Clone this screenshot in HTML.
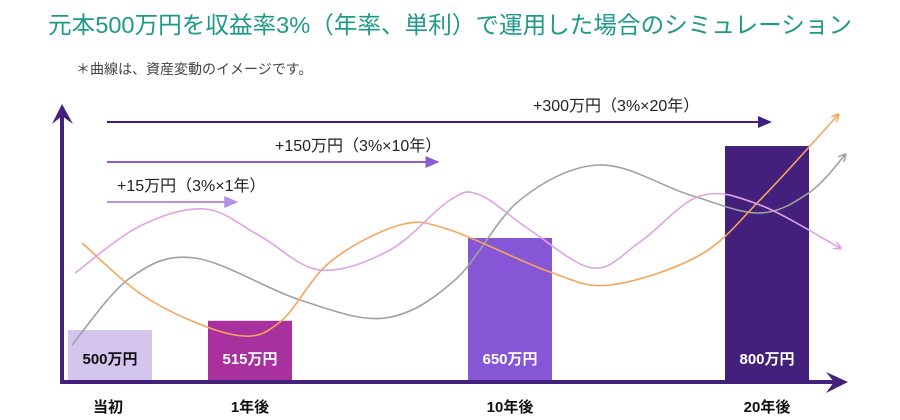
<!DOCTYPE html>
<html><head><meta charset="utf-8">
<style>
html,body{margin:0;padding:0;background:#fff;}
svg{display:block;font-family:"Liberation Sans","Noto Sans CJK JP",sans-serif;}
</style></head>
<body>
<svg id="chart" width="900" height="420" viewBox="0 0 900 420">
  <text x="48" y="33" font-size="23.5" fill="#1d9a88" textLength="804" lengthAdjust="spacingAndGlyphs">元本500万円を収益率3%（年率、単利）で運用した場合のシミュレーション</text>
  <text x="76" y="74" font-size="14" fill="#444">＊曲線は、資産変動のイメージです。</text>
  <g id="bars"></g>
  <g id="curves"></g>
  <g id="gains"></g>
  <g id="axes"></g>
</svg>
<script>
const categories = ["当初","1年後","10年後","20年後"];
const values = [500,515,650,800];
const valueLabels = ["500万円","515万円","650万円","800万円"];
const barColors = ["#d4c5ee","#a8309f","#8556d6","#42207c"];
const labelColors = ["#111","#fff","#fff","#fff"];
const gainLabels = ["+15万円（3%×1年）","+150万円（3%×10年）","+300万円（3%×20年）"];
const gainYears = [1,10,20];
const gainColors = ["#b393e6","#8a5cd6","#3f1f7f"];
// illustrative curves (image of asset fluctuation)
const grayCurve = [[72,345],[130,278],[195,258],[300,300],[385,318],[455,280],[520,200],[600,165],[690,195],[760,213],[810,192],[845,155]];
const orangeCurve = [[82,243],[150,300],[235,335],[280,322],[330,262],[400,225],[450,230],[550,272],[610,285],[700,255],[760,200],[838,115]];
const pinkCurve = [[75,273],[140,226],[205,209],[260,236],[320,270],[390,250],[450,200],[480,195],[530,230],[593,268],[640,242],[700,196],[760,205],[840,248]];

const NS="http://www.w3.org/2000/svg";
const svg=document.getElementById('chart');
function mk(tag,attrs,parent){const e=document.createElementNS(NS,tag);for(const k in attrs)e.setAttribute(k,attrs[k]);parent.appendChild(e);return e;}
const baseY=380;
const xCenter=[110,250,510,767];
const barW=84;
function yScale(v){return baseY-(v-418.5)*0.6133;}
function xYear(yr){return 107+yr*33.25;}

const gb=document.getElementById('bars');
values.forEach((v,i)=>{
  const y=yScale(v);
  const r=mk('rect',{x:xCenter[i]-barW/2,y:y,width:barW,height:baseY-y,fill:barColors[i]},gb);
  
  
  const t=mk('text',{x:xCenter[i],y:364,'font-size':15,'font-weight':'bold','text-anchor':'middle',fill:labelColors[i]},gb);
  t.textContent=valueLabels[i];
  
  
  const c=mk('text',{x:xCenter[i]+(i==0?-2:0),y:412,'font-size':15,'font-weight':'bold','text-anchor':'middle',fill:'#111'},gb);
  c.textContent=categories[i];
  
  
});

function pathFrom(pts){
  let d='M'+pts[0][0]+','+pts[0][1];
  for(let i=0;i<pts.length-1;i++){
    const p0=pts[i-1]||pts[i],p1=pts[i],p2=pts[i+1],p3=pts[i+2]||p2;
    const c1=[p1[0]+(p2[0]-p0[0])/6,p1[1]+(p2[1]-p0[1])/6];
    const c2=[p2[0]-(p3[0]-p1[0])/6,p2[1]-(p3[1]-p1[1])/6];
    d+=' C'+c1+' '+c2+' '+p2;
  }
  return d;
}
const gc=document.getElementById('curves');
const defs=mk('defs',{},svg);
[["gray",grayCurve,"#a0a0a0"],["orange",orangeCurve,"#f7a55a"],["pink",pinkCurve,"#e0a2e6"]].forEach(([n,pts,col])=>{
  const m=mk('marker',{id:'m'+n,viewBox:'0 0 10 10',refX:8,refY:5,markerWidth:8,markerHeight:8,orient:'auto',markerUnits:'userSpaceOnUse'},defs);
  mk('path',{d:'M0,0 L10,5 L0,10',fill:'none',stroke:col,'stroke-width':2},m);
  const p=mk('path',{d:pathFrom(pts),fill:'none',stroke:col,'stroke-width':1.6,'marker-end':'url(#m'+n+')'},gc);
  
  
});

const gg=document.getElementById('gains');
const gainY=[202,162,122];
const textX=[117,275,533];
gainYears.forEach((yr,i)=>{
  const x2=xYear(yr)+(i==0?98:0);
  const y=gainY[i];
  const l=mk('line',{x1:107,y1:y,x2:x2-12,y2:y,stroke:gainColors[i],'stroke-width':2},gg);
  
  
  mk('polygon',{points:(x2-14)+','+(y-6)+' '+x2+','+y+' '+(x2-14)+','+(y+6),fill:gainColors[i]},gg);
  const t=mk('text',{x:textX[i],y:y-11,'font-size':16,fill:'#222'},gg);
  t.textContent=gainLabels[i];
  
  
});

const ga=document.getElementById('axes');
const ya=mk('line',{x1:62,y1:383,x2:62,y2:110,stroke:'#42207c','stroke-width':4},ga);


mk('polygon',{points:'52,124 62,104 73,124 62,116',fill:'#42207c'},ga);
const xa=mk('line',{x1:60,y1:382,x2:840,y2:382,stroke:'#42207c','stroke-width':4},ga);


mk('polygon',{points:'826,372 848,382 826,393 834,382',fill:'#42207c'},ga);
</script>
</body></html>
